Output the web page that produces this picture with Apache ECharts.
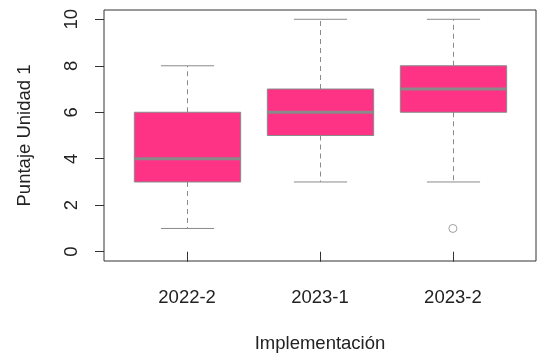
<!DOCTYPE html>
<html><head><meta charset="utf-8">
<script src="https://cdn.jsdelivr.net/npm/echarts@6/dist/echarts.min.js"></script>
<style>html,body{margin:0;padding:0;background:#fff}#c{width:543px;height:359px}</style>
</head><body><div id="c"></div>
<script>
const categories = ['2022-2', '2023-1', '2023-2'];
const whiskerLow = [1, 3, 3];
const q1 = [3, 5, 6];
const median = [4, 6, 7];
const q3 = [6, 7, 8];
const whiskerHigh = [8, 10, 10];
const outliers = [[2, 1]]; // [category index, value]
const yTicks = [0, 2, 4, 6, 8, 10];

const FONT = 'Liberation Sans, Arial, sans-serif';
const TXT = '#222';
const GRAY = '#8a8a8a';
const PINK = '#ff3385';

const boxData = categories.map((c, i) => [i, whiskerLow[i], q1[i], median[i], q3[i], whiskerHigh[i]]);

const chart = echarts.init(document.getElementById('c'), null, {renderer: 'canvas'});
chart.setOption({
  animation: false,
  backgroundColor: '#fff',
  grid: [
    {left: 104, top: 10, right: 7, bottom: 98, show: true, borderColor: '#333', borderWidth: 1, backgroundColor: 'transparent'},
    {left: 120.65, top: 10, right: 23.65, bottom: 98, show: false}
  ],
  xAxis: [
    {type: 'value', gridIndex: 0, min: 0, max: 1, show: false},
    {type: 'category', gridIndex: 1, data: categories, boundaryGap: true,
     axisLine: {show: false},
     axisTick: {show: true, alignWithLabel: true, length: 10, lineStyle: {color: '#333'}},
     axisLabel: {color: TXT, fontFamily: FONT, fontSize: 18.5, margin: 27},
     name: 'Implementación', nameLocation: 'middle', nameGap: 73,
     nameTextStyle: {color: TXT, fontFamily: FONT, fontSize: 18.5}}
  ],
  yAxis: [
    {type: 'value', gridIndex: 0, min: -0.4, max: 10.4,
     axisLine: {show: false},
     splitLine: {show: false},
     axisTick: {show: true, length: 9, customValues: yTicks, lineStyle: {color: '#333'}},
     axisLabel: {customValues: yTicks, rotate: 90, color: TXT, fontFamily: FONT, fontSize: 18.5, margin: 32,
                 verticalAlign: 'middle', align: 'center'},
     name: 'Puntaje Unidad 1', nameLocation: 'middle', nameGap: 70, nameRotate: 90,
     nameTextStyle: {color: TXT, fontFamily: FONT, fontSize: 18.5}},
    {type: 'value', gridIndex: 1, min: -0.4, max: 10.4, show: false}
  ],
  series: [
    {
      type: 'custom', xAxisIndex: 1, yAxisIndex: 1, data: boxData,
      renderItem: function (params, api) {
        const x = api.value(0);
        const band = api.size([1, 0])[0];
        const bw = band * 0.8, cw = band * 0.4;
        const pLo = api.coord([x, api.value(1)]);
        const pQ1 = api.coord([x, api.value(2)]);
        const pMd = api.coord([x, api.value(3)]);
        const pQ3 = api.coord([x, api.value(4)]);
        const pHi = api.coord([x, api.value(5)]);
        const cx = Math.round(pMd[0]) + 0.5;
        const dash = {stroke: GRAY, lineWidth: 1, lineDash: [5, 4]};
        const solid = {stroke: GRAY, lineWidth: 1};
        return {type: 'group', children: [
          {type: 'line', shape: {x1: cx, y1: pQ3[1], x2: cx, y2: pHi[1]}, style: dash},
          {type: 'line', shape: {x1: cx, y1: pQ1[1], x2: cx, y2: pLo[1]}, style: dash},
          {type: 'line', shape: {x1: cx - cw / 2, y1: pHi[1], x2: cx + cw / 2, y2: pHi[1]}, style: solid},
          {type: 'line', shape: {x1: cx - cw / 2, y1: pLo[1], x2: cx + cw / 2, y2: pLo[1]}, style: solid},
          {type: 'rect', shape: {x: cx - bw / 2, y: pQ3[1], width: bw, height: pQ1[1] - pQ3[1]},
           style: {fill: PINK, stroke: GRAY, lineWidth: 1}},
          {type: 'line', shape: {x1: cx - bw / 2, y1: pMd[1], x2: cx + bw / 2, y2: pMd[1]},
           style: {stroke: GRAY, lineWidth: 3}}
        ]};
      }
    },
    {
      type: 'scatter', xAxisIndex: 1, yAxisIndex: 1, data: outliers,
      symbol: 'circle', symbolSize: 8,
      itemStyle: {color: '#fff', borderColor: GRAY, borderWidth: 1}
    }
  ]
});
</script></body></html>
